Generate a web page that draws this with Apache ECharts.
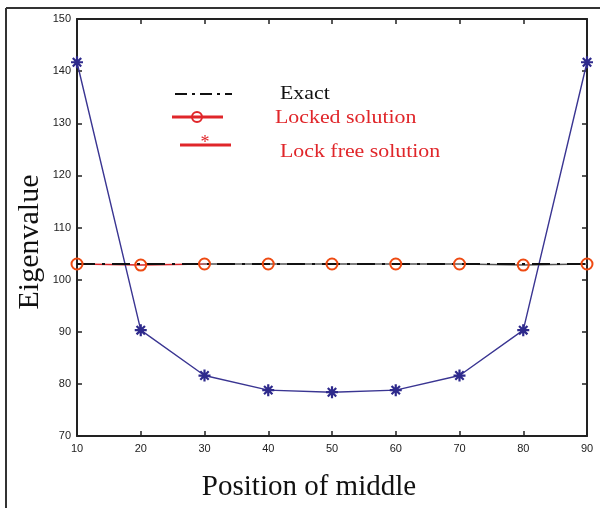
<!DOCTYPE html>
<html>
<head>
<meta charset="utf-8">
<script src="https://cdn.jsdelivr.net/npm/echarts@6/dist/echarts.min.js"></script>
<style>
  html, body { margin: 0; padding: 0; background: #fff; }
  #chart { width: 600px; height: 508px; }
</style>
</head>
<body>
<div id="chart"></div>
<script>
// Position of the middle node along the member
const positions = [10, 20, 30, 40, 50, 60, 70, 80, 90];
// Eigenvalue results
const exactValues = [103, 103, 103, 103, 103, 103, 103, 103, 103];
const lockedValues = [103, 102.8, 103, 103, 103, 103, 103, 102.8, 103];
const lockFreeValues = [141.7, 90.3, 81.6, 78.8, 78.4, 78.8, 81.6, 90.3, 141.7];
const yTicks = [70, 80, 90, 100, 110, 120, 130, 140, 150];
const xTicks = positions;

const pair = (xs, ys) => xs.map((x, i) => [x, ys[i]]);

const asterisk = 'path://M5,0 L5,10 M0,5 L10,5 M1.5,1.5 L8.5,8.5 M8.5,1.5 L1.5,8.5';

const serif = '"Liberation Serif", "DejaVu Serif", serif';
const sans = '"Liberation Sans", Arial, sans-serif';

const chart = echarts.init(document.getElementById('chart'), null, { renderer: 'canvas' });

const axisLine = { show: true, lineStyle: { color: '#222', width: 2 } };
const tick = { show: true, inside: true, length: 5, lineStyle: { color: '#222', width: 1.5 } };

chart.setOption({
  animation: false,
  backgroundColor: '#fff',
  grid: { left: 77, right: 13, top: 19, bottom: 72, containLabel: false },
  xAxis: [
    {
      type: 'value', min: xTicks[0], max: xTicks[xTicks.length - 1], interval: 10,
      axisLine, axisTick: tick,
      axisLabel: { color: '#222', fontSize: 11, fontFamily: sans, margin: 7 },
      splitLine: { show: false }
    },
    {
      type: 'value', position: 'top', min: xTicks[0], max: xTicks[xTicks.length - 1], interval: 10,
      axisLine, axisTick: tick, axisLabel: { show: false }, splitLine: { show: false }
    }
  ],
  yAxis: [
    {
      type: 'value', min: yTicks[0], max: yTicks[yTicks.length - 1], interval: 10,
      axisLine, axisTick: tick,
      axisLabel: { color: '#222', fontSize: 11, fontFamily: sans, margin: 6 },
      splitLine: { show: false }
    },
    {
      type: 'value', position: 'right', min: yTicks[0], max: yTicks[yTicks.length - 1], interval: 10,
      axisLine, axisTick: tick, axisLabel: { show: false }, splitLine: { show: false }
    }
  ],
  series: [
    {
      name: 'Lock free solution', type: 'line', data: pair(positions, lockFreeValues),
      symbol: asterisk, symbolSize: 12,
      itemStyle: { color: 'transparent', borderColor: '#2e2a8c', borderWidth: 2.2 },
      lineStyle: { color: '#3a3592', width: 1.4 },
      z: 3
    },
    {
      name: 'Locked solution', type: 'line', data: pair(positions, lockedValues),
      symbol: 'none',
      lineStyle: {
        width: 1.5,
        color: new echarts.graphic.LinearGradient(0, 0, 1, 0, [
          { offset: 0, color: '#d9262a' },
          { offset: 0.24, color: '#d9262a' },
          { offset: 0.26, color: '#555' },
          { offset: 1, color: '#555' }
        ])
      },
      z: 2
    },
    {
      name: 'Exact', type: 'line', data: pair(positions, exactValues),
      symbol: 'none',
      lineStyle: { color: '#111', width: 2.2, type: [18, 7, 3, 7] },
      z: 4
    },
    {
      name: 'Locked solution markers', type: 'line', data: pair(positions, lockedValues),
      symbol: 'circle', symbolSize: 11,
      itemStyle: { color: 'transparent', borderColor: '#ee4a12', borderWidth: 2 },
      lineStyle: { width: 0, opacity: 0 },
      z: 5
    }
  ],
  graphic: [
    // outer figure frame
    { type: 'line', shape: { x1: 6, y1: 8, x2: 6, y2: 508 }, style: { stroke: '#333', lineWidth: 2 } },
    { type: 'line', shape: { x1: 6, y1: 8, x2: 600, y2: 8 }, style: { stroke: '#333', lineWidth: 2 } },
    // axis titles
    {
      type: 'text', x: 309, y: 487,
      style: { text: 'Position of middle', font: '29px ' + serif, fill: '#111', align: 'center', verticalAlign: 'middle' }
    },
    {
      type: 'text', x: 30, y: 242, rotation: Math.PI / 2,
      style: { text: 'Eigenvalue', font: '30px ' + serif, fill: '#111', align: 'center', verticalAlign: 'middle' }
    },
    // legend: Exact
    { type: 'line', shape: { x1: 175, y1: 94, x2: 232, y2: 94 }, style: { stroke: '#111', lineWidth: 2, lineDash: [12, 5, 3, 5] } },
    { type: 'text', x: 280, y: 94, scaleX: 1.15, style: { text: 'Exact', font: '19px ' + serif, fill: '#111', verticalAlign: 'middle' } },
    // legend: Locked solution
    { type: 'line', shape: { x1: 172, y1: 117, x2: 223, y2: 117 }, style: { stroke: '#e0262a', lineWidth: 3 } },
    { type: 'circle', shape: { cx: 197, cy: 117, r: 5 }, style: { fill: 'none', stroke: '#e0262a', lineWidth: 2 } },
    { type: 'text', x: 275, y: 118, scaleX: 1.15, style: { text: 'Locked solution', font: '19px ' + serif, fill: '#e0262a', verticalAlign: 'middle' } },
    // legend: Lock free solution
    { type: 'line', shape: { x1: 180, y1: 145, x2: 231, y2: 145 }, style: { stroke: '#e0262a', lineWidth: 3 } },
    { type: 'text', x: 205, y: 143, style: { text: '*', font: '18px ' + serif, fill: '#e0262a', align: 'center', verticalAlign: 'middle' } },
    { type: 'text', x: 280, y: 152, scaleX: 1.15, style: { text: 'Lock free solution', font: '19px ' + serif, fill: '#e0262a', verticalAlign: 'middle' } }
  ]
});
</script>
</body>
</html>
